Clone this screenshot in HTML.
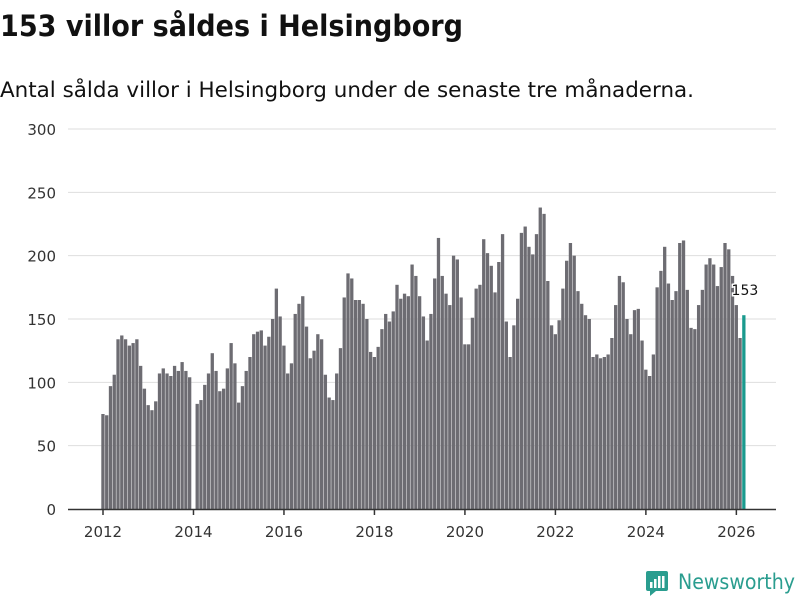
<!DOCTYPE html>
<html><head><meta charset="utf-8">
<style>
body{margin:0;background:#fff;width:800px;height:600px;overflow:hidden;font-family:"Liberation Sans","DejaVu Sans",sans-serif;}
</style></head>
<body>
<svg width="800" height="600" xmlns="http://www.w3.org/2000/svg">
<text x="0" y="36" font-size="29" font-weight="bold" fill="#111" font-family="DejaVu Sans, sans-serif" textLength="463" lengthAdjust="spacingAndGlyphs">153 villor såldes i Helsingborg</text>
<text x="0" y="97" font-size="21" fill="#111" font-family="DejaVu Sans, sans-serif" textLength="694" lengthAdjust="spacingAndGlyphs">Antal sålda villor i Helsingborg under de senaste tre månaderna.</text>
<g id="grid"></g>
<g id="yticks"></g>
<g id="bars"></g>
<g id="xaxis"></g>
<g id="label"></g>
<g>
<rect x="646" y="571" width="22" height="20" rx="2" fill="#2a9d8f"/>
<polygon points="650,591 656,591 650,596" fill="#2a9d8f"/>
<rect x="650" y="582" width="2.5" height="6" fill="#fff"/><rect x="654" y="579" width="2.5" height="9" fill="#fff"/><rect x="658" y="576" width="2.5" height="12" fill="#fff"/><rect x="662" y="576" width="2.5" height="12" fill="#fff"/>
<text x="678" y="589" font-size="21" fill="#2a9d8f" font-family="DejaVu Sans, sans-serif" textLength="117" lengthAdjust="spacingAndGlyphs">Newsworthy</text>
</g>
</svg>
<script>
const startYear = 2012;
const values = [
75,74,97,106,134,137,134,129,131,134,113,95,
82,78,85,107,111,107,105,113,109,116,109,104,
null,83,86,98,107,123,109,93,95,111,131,115,
84,97,109,120,138,140,141,129,136,150,174,152,
129,107,115,154,162,168,144,119,125,138,134,106,
88,86,107,127,167,186,182,165,165,162,150,124,
120,128,142,154,148,156,177,166,170,168,193,184,
168,152,133,154,182,214,184,170,161,200,197,167,
130,130,151,174,177,213,202,192,171,195,217,148,
120,145,166,218,223,207,201,217,238,233,180,145,
138,149,174,196,210,200,172,162,153,150,120,122,
119,120,122,135,161,184,179,150,138,157,158,133,
110,105,122,175,188,207,178,165,172,210,212,173,
143,142,161,173,193,198,193,176,191,210,205,184,
161,135,153];
const yTicks = [0,50,100,150,200,250,300];
const xTickYears = [2012,2014,2016,2018,2020,2022,2024,2026];
const NS="http://www.w3.org/2000/svg";
const yS = v => 509 - v*380/300;
const xS = i => 103 + i*3.77;
function mk(tag, attrs, parent){const e=document.createElementNS(NS,tag);for(const k in attrs)e.setAttribute(k,attrs[k]);parent.appendChild(e);return e;}
const grid=document.getElementById('grid'), yt=document.getElementById('yticks');
yTicks.forEach(t=>{
  if(t>0){const l=mk('line',{x1:68,x2:776,y1:yS(t),y2:yS(t),stroke:'#dedede','stroke-width':1},grid);
  
  }
  const tx=mk('text',{x:56,y:yS(t)+6,'text-anchor':'end','font-size':15,fill:'#333','font-family':'DejaVu Sans, sans-serif'},yt);
  tx.textContent=t;
  
  
});
const bars=document.getElementById('bars');
values.forEach((v,i)=>{
  if(v==null)return;
  const last=i===values.length-1;
  const r=mk('rect',{x:xS(i)-1.7,y:yS(v),width:3.3,height:509-yS(v),fill:last?'#1a9a8e':'#6d6c72'},bars);
  
  
});
const xa=document.getElementById('xaxis');
mk('line',{x1:68,x2:776,y1:509.5,y2:509.5,stroke:'#333','stroke-width':1.5},xa);
xTickYears.forEach(y=>{
  const x=xS((y-startYear)*12);
  mk('line',{x1:x,x2:x,y1:509,y2:515,stroke:'#333','stroke-width':1.5},xa);
  const t=mk('text',{x:x,y:537,'text-anchor':'middle','font-size':15,fill:'#333','font-family':'DejaVu Sans, sans-serif'},xa);
  t.textContent=y;
  
  
});
const li=values.length-1;
const lab=mk('text',{x:xS(li)+1,y:yS(values[li])-20,'text-anchor':'middle','font-size':14,fill:'#111',stroke:'#fff','stroke-width':3,'paint-order':'stroke','font-family':'DejaVu Sans, sans-serif'},document.getElementById('label'));
lab.textContent=values[li];
</script>
</body></html>
